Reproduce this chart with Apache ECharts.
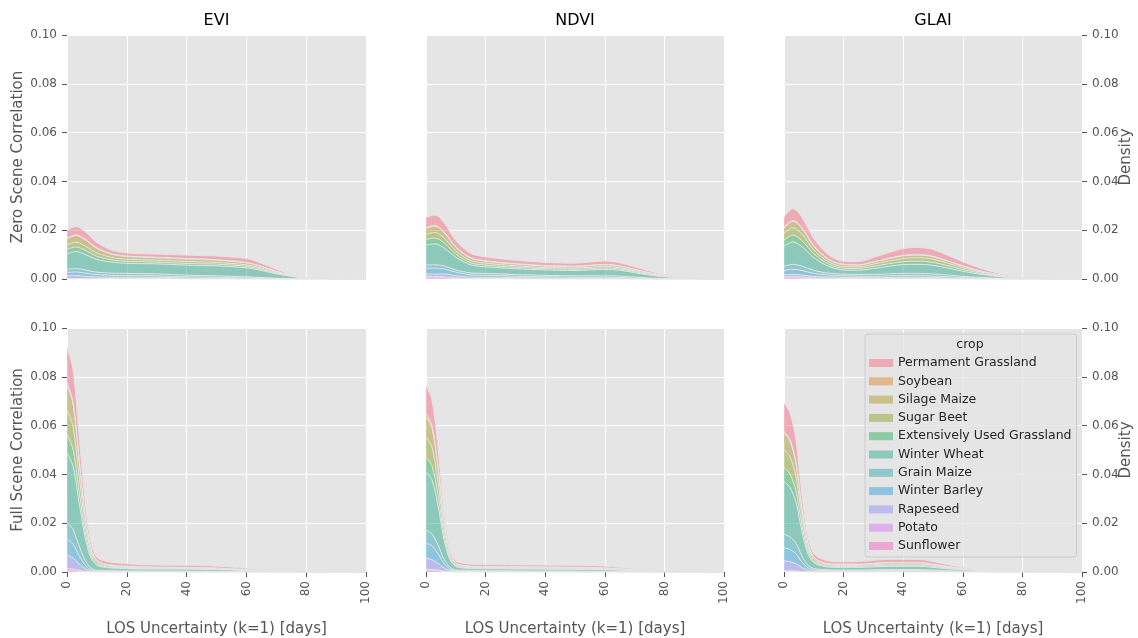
<!DOCTYPE html>
<html>
<head>
<meta charset="utf-8">
<script src="https://cdn.jsdelivr.net/npm/echarts@6/dist/echarts.min.js"></script>
<style>
  html, body { margin: 0; padding: 0; background: #fff; }
  #chart { width: 1138px; height: 638px; }
</style>
</head>
<body>
<div id="chart"></div>
<script>
// crops, in legend order (top of the stack first)
const crops = ["Permament Grassland", "Soybean", "Silage Maize", "Sugar Beet",
  "Extensively Used Grassland", "Winter Wheat", "Grain Maize", "Winter Barley",
  "Rapeseed", "Potato", "Sunflower"];
const cropColors = ["#f77189", "#d98a32", "#b09c31", "#8fa531", "#34b05e", "#35ae92",
  "#37aab3", "#3aa4da", "#968ff4", "#d47df3", "#f568c4"];

const indices = ["EVI", "NDVI", "GLAI"];
const rowNames = ["Zero Scene Correlation", "Full Scene Correlation"];

// evaluation points (days)
const xTop = [0, 3, 6, 10, 15, 20, 25, 30, 40, 45, 50, 60, 65, 70, 75, 80, 90, 100];
const xBottom = [0, 2, 4, 6, 8, 10, 13, 17, 25, 35, 45, 55, 65, 75, 85, 100];

// densities, one row per crop (same order as crops)
const eviZero = [
  [0.0032, 0.0034, 0.0031, 0.0022, 0.0015, 0.0013, 0.0013, 0.0013, 0.0014, 0.0014, 0.0015, 0.0016, 0.0013, 0.0008, 0.0004, 0.0001, 0, 0],
  [0.0003, 0.0003, 0.0003, 0.0003, 0.0002, 0.0002, 0.0002, 0.0002, 0.0002, 0.0002, 0.0002, 0.0002, 0.0001, 0.0001, 0, 0, 0, 0],
  [0.0025, 0.0027, 0.0025, 0.0018, 0.0013, 0.0011, 0.0010, 0.0010, 0.0010, 0.0010, 0.0009, 0.0008, 0.0006, 0.0004, 0.0002, 0.0001, 0, 0],
  [0.0019, 0.0020, 0.0018, 0.0014, 0.0010, 0.0009, 0.0008, 0.0008, 0.0008, 0.0008, 0.0007, 0.0006, 0.0005, 0.0003, 0.0001, 0, 0, 0],
  [0.0017, 0.0018, 0.0017, 0.0013, 0.0009, 0.0008, 0.0008, 0.0007, 0.0007, 0.0007, 0.0007, 0.0006, 0.0005, 0.0003, 0.0001, 0.0001, 0, 0],
  [0.0064, 0.0070, 0.0064, 0.0052, 0.0045, 0.0041, 0.0041, 0.0041, 0.0041, 0.0041, 0.0041, 0.0037, 0.0029, 0.0018, 0.0009, 0.0003, 0.0001, 0],
  [0.0013, 0.0014, 0.0013, 0.0010, 0.0009, 0.0009, 0.0008, 0.0008, 0.0007, 0.0006, 0.0006, 0.0005, 0.0003, 0.0002, 0.0001, 0.0001, 0, 0],
  [0.0014, 0.0015, 0.0013, 0.0010, 0.0008, 0.0007, 0.0007, 0.0006, 0.0005, 0.0005, 0.0004, 0.0003, 0.0002, 0.0001, 0.0001, 0, 0, 0],
  [0.0011, 0.0012, 0.0009, 0.0006, 0.0005, 0.0005, 0.0005, 0.0004, 0.0003, 0.0002, 0.0002, 0.0001, 0.0001, 0, 0, 0, 0, 0],
  [0.0001, 0.0001, 0.0001, 0.0001, 0.0001, 0.0001, 0.0001, 0.0002, 0.0001, 0.0001, 0.0001, 0, 0, 0, 0, 0, 0, 0],
  [0.0001, 0.0001, 0.0001, 0.0001, 0.0001, 0.0001, 0.0001, 0.0001, 0, 0, 0, 0, 0, 0, 0, 0, 0, 0]
];
const ndviZero = [
  [0.0041, 0.0043, 0.0038, 0.0026, 0.0018, 0.0016, 0.0015, 0.0014, 0.0013, 0.0012, 0.0012, 0.0014, 0.0013, 0.0010, 0.0007, 0.0004, 0.0001, 0],
  [0.0003, 0.0003, 0.0003, 0.0003, 0.0002, 0.0002, 0.0002, 0.0002, 0.0002, 0.0002, 0.0002, 0.0002, 0.0002, 0.0001, 0.0001, 0, 0, 0],
  [0.0024, 0.0025, 0.0022, 0.0014, 0.0010, 0.0008, 0.0007, 0.0007, 0.0006, 0.0006, 0.0006, 0.0007, 0.0006, 0.0005, 0.0003, 0.0002, 0, 0],
  [0.0022, 0.0023, 0.0020, 0.0013, 0.0009, 0.0008, 0.0007, 0.0006, 0.0005, 0.0005, 0.0005, 0.0006, 0.0005, 0.0004, 0.0003, 0.0002, 0.0001, 0],
  [0.0023, 0.0024, 0.0021, 0.0013, 0.0008, 0.0007, 0.0006, 0.0006, 0.0005, 0.0005, 0.0005, 0.0006, 0.0005, 0.0004, 0.0003, 0.0002, 0.0001, 0],
  [0.0082, 0.0086, 0.0074, 0.0052, 0.0033, 0.0027, 0.0025, 0.0024, 0.0022, 0.0022, 0.0022, 0.0026, 0.0024, 0.0018, 0.0012, 0.0007, 0.0001, 0.0001],
  [0.0013, 0.0014, 0.0012, 0.0009, 0.0008, 0.0008, 0.0007, 0.0007, 0.0006, 0.0006, 0.0006, 0.0006, 0.0006, 0.0005, 0.0003, 0.0002, 0, 0],
  [0.0024, 0.0024, 0.0021, 0.0015, 0.0009, 0.0008, 0.0007, 0.0006, 0.0005, 0.0005, 0.0004, 0.0004, 0.0004, 0.0002, 0.0001, 0, 0, 0],
  [0.0010, 0.0010, 0.0012, 0.0008, 0.0006, 0.0005, 0.0005, 0.0004, 0.0003, 0.0003, 0.0003, 0.0002, 0.0002, 0.0001, 0, 0, 0, 0],
  [0.0006, 0.0006, 0.0005, 0.0003, 0.0001, 0.0001, 0.0001, 0.0001, 0.0001, 0, 0, 0.0001, 0, 0, 0, 0, 0, 0],
  [0.0004, 0.0004, 0.0004, 0.0002, 0.0001, 0.0001, 0.0001, 0, 0, 0, 0, 0, 0, 0, 0, 0, 0, 0]
];
const glaiZero = [
  [0.0042, 0.0048, 0.0043, 0.0029, 0.0017, 0.0013, 0.0014, 0.0018, 0.0028, 0.0029, 0.0028, 0.0017, 0.0012, 0.0008, 0.0004, 0.0002, 0, 0],
  [0.0004, 0.0004, 0.0004, 0.0003, 0.0002, 0.0001, 0.0001, 0.0001, 0.0002, 0.0002, 0.0002, 0.0001, 0.0001, 0, 0, 0, 0, 0],
  [0.0023, 0.0026, 0.0023, 0.0015, 0.0009, 0.0008, 0.0007, 0.0008, 0.0011, 0.0011, 0.0010, 0.0006, 0.0004, 0.0003, 0.0002, 0.0001, 0, 0],
  [0.0026, 0.0030, 0.0026, 0.0016, 0.0009, 0.0007, 0.0007, 0.0009, 0.0013, 0.0014, 0.0013, 0.0008, 0.0005, 0.0003, 0.0002, 0.0001, 0, 0],
  [0.0025, 0.0028, 0.0025, 0.0016, 0.0009, 0.0007, 0.0007, 0.0009, 0.0012, 0.0013, 0.0012, 0.0007, 0.0005, 0.0003, 0.0002, 0.0001, 0, 0],
  [0.0082, 0.0092, 0.0080, 0.0052, 0.0028, 0.0017, 0.0017, 0.0024, 0.0036, 0.0037, 0.0035, 0.0021, 0.0014, 0.0009, 0.0005, 0.0002, 0.0001, 0],
  [0.0017, 0.0020, 0.0018, 0.0012, 0.0008, 0.0007, 0.0007, 0.0008, 0.0009, 0.0009, 0.0009, 0.0005, 0.0004, 0.0002, 0.0001, 0, 0, 0],
  [0.0018, 0.0021, 0.0019, 0.0013, 0.0008, 0.0006, 0.0006, 0.0006, 0.0007, 0.0007, 0.0006, 0.0004, 0.0002, 0.0001, 0, 0, 0, 0],
  [0.0008, 0.0009, 0.0008, 0.0006, 0.0005, 0.0004, 0.0004, 0.0003, 0.0004, 0.0004, 0.0003, 0.0002, 0.0001, 0.0001, 0, 0, 0, 0],
  [0.0005, 0.0006, 0.0005, 0.0003, 0.0002, 0.0002, 0.0001, 0.0001, 0.0002, 0.0002, 0.0002, 0, 0, 0, 0, 0, 0, 0],
  [0.0004, 0.0004, 0.0003, 0.0001, 0.0001, 0.0001, 0.0001, 0.0001, 0.0001, 0.0001, 0.0001, 0, 0, 0, 0, 0, 0, 0]
];
const eviFull = [
  [0.0144, 0.0134, 0.0098, 0.0055, 0.0024, 0.0012, 0.0012, 0.0011, 0.0009, 0.0009, 0.0009, 0.0007, 0.0004, 0.0002, 0.0001, 0],
  [0.0010, 0.0009, 0.0006, 0.0003, 0.0002, 0.0001, 0.0001, 0.0001, 0.0001, 0, 0, 0, 0, 0, 0, 0],
  [0.0102, 0.0093, 0.0064, 0.0034, 0.0014, 0.0007, 0.0005, 0.0004, 0.0003, 0.0003, 0.0003, 0.0002, 0.0001, 0, 0, 0],
  [0.0102, 0.0093, 0.0064, 0.0034, 0.0014, 0.0007, 0.0004, 0.0003, 0.0003, 0.0002, 0.0002, 0.0001, 0.0001, 0, 0, 0],
  [0.0075, 0.0068, 0.0047, 0.0025, 0.0011, 0.0005, 0.0004, 0.0003, 0.0002, 0.0002, 0.0002, 0.0002, 0.0001, 0, 0, 0],
  [0.0285, 0.0260, 0.0180, 0.0096, 0.0041, 0.0021, 0.0012, 0.0010, 0.0008, 0.0008, 0.0008, 0.0006, 0.0003, 0.0002, 0, 0],
  [0.0068, 0.0060, 0.0040, 0.0020, 0.0008, 0.0004, 0.0003, 0.0003, 0.0002, 0.0002, 0.0002, 0.0001, 0, 0, 0, 0],
  [0.0066, 0.0057, 0.0035, 0.0015, 0.0005, 0.0002, 0.0002, 0.0001, 0.0001, 0.0001, 0.0001, 0.0001, 0, 0, 0, 0],
  [0.0054, 0.0046, 0.0027, 0.0011, 0.0003, 0.0001, 0.0001, 0.0001, 0.0001, 0.0001, 0, 0, 0, 0, 0, 0],
  [0.0010, 0.0008, 0.0005, 0.0002, 0.0001, 0, 0, 0, 0, 0, 0, 0, 0, 0, 0, 0],
  [0.0005, 0.0004, 0.0002, 0.0001, 0, 0, 0, 0, 0, 0, 0, 0, 0, 0, 0, 0]
];
const ndviFull = [
  [0.0114, 0.0106, 0.0078, 0.0040, 0.0017, 0.0009, 0.0009, 0.0008, 0.0008, 0.0008, 0.0008, 0.0008, 0.0006, 0.0003, 0.0001, 0],
  [0.0011, 0.0010, 0.0007, 0.0004, 0.0002, 0.0001, 0.0001, 0.0001, 0.0001, 0.0001, 0.0001, 0.0001, 0, 0, 0, 0],
  [0.0084, 0.0078, 0.0057, 0.0029, 0.0011, 0.0005, 0.0003, 0.0003, 0.0003, 0.0003, 0.0003, 0.0003, 0.0002, 0.0001, 0, 0],
  [0.0082, 0.0076, 0.0056, 0.0028, 0.0011, 0.0005, 0.0003, 0.0003, 0.0003, 0.0003, 0.0003, 0.0003, 0.0002, 0.0001, 0, 0],
  [0.0062, 0.0058, 0.0042, 0.0021, 0.0008, 0.0004, 0.0003, 0.0002, 0.0002, 0.0002, 0.0002, 0.0002, 0.0001, 0, 0, 0],
  [0.0239, 0.0222, 0.0163, 0.0081, 0.0031, 0.0014, 0.0009, 0.0008, 0.0008, 0.0008, 0.0007, 0.0007, 0.0005, 0.0002, 0.0001, 0],
  [0.0053, 0.0049, 0.0036, 0.0018, 0.0007, 0.0003, 0.0003, 0.0002, 0.0002, 0.0002, 0.0002, 0.0002, 0.0002, 0, 0, 0],
  [0.0062, 0.0057, 0.0040, 0.0019, 0.0007, 0.0003, 0.0002, 0.0002, 0.0002, 0.0001, 0.0001, 0.0001, 0.0001, 0, 0, 0],
  [0.0044, 0.0040, 0.0028, 0.0013, 0.0004, 0.0002, 0.0002, 0.0002, 0.0001, 0.0001, 0.0001, 0, 0, 0, 0, 0],
  [0.0006, 0.0005, 0.0004, 0.0002, 0.0001, 0, 0, 0, 0, 0, 0, 0, 0, 0, 0, 0],
  [0.0006, 0.0005, 0.0004, 0.0002, 0.0001, 0, 0, 0, 0, 0, 0, 0, 0, 0, 0, 0]
];
const glaiFull = [
  [0.0116, 0.0110, 0.0092, 0.0055, 0.0026, 0.0014, 0.0013, 0.0010, 0.0011, 0.0013, 0.0013, 0.0008, 0.0003, 0.0001, 0, 0],
  [0.0007, 0.0007, 0.0006, 0.0003, 0.0002, 0.0001, 0.0001, 0.0001, 0.0001, 0.0001, 0.0001, 0, 0, 0, 0, 0],
  [0.0068, 0.0064, 0.0054, 0.0032, 0.0015, 0.0008, 0.0005, 0.0004, 0.0004, 0.0005, 0.0005, 0.0003, 0.0001, 0, 0, 0],
  [0.0075, 0.0071, 0.0059, 0.0035, 0.0016, 0.0008, 0.0005, 0.0004, 0.0004, 0.0005, 0.0005, 0.0003, 0.0001, 0.0001, 0, 0],
  [0.0057, 0.0054, 0.0045, 0.0027, 0.0012, 0.0006, 0.0004, 0.0004, 0.0004, 0.0005, 0.0005, 0.0003, 0.0001, 0, 0, 0],
  [0.0215, 0.0203, 0.0170, 0.0100, 0.0047, 0.0024, 0.0014, 0.0011, 0.0011, 0.0013, 0.0013, 0.0008, 0.0004, 0.0002, 0.0001, 0],
  [0.0055, 0.0052, 0.0043, 0.0025, 0.0011, 0.0006, 0.0004, 0.0003, 0.0003, 0.0004, 0.0004, 0.0002, 0.0001, 0, 0, 0],
  [0.0054, 0.0050, 0.0041, 0.0023, 0.0010, 0.0005, 0.0003, 0.0003, 0.0003, 0.0003, 0.0003, 0.0002, 0.0001, 0, 0, 0],
  [0.0041, 0.0037, 0.0030, 0.0016, 0.0007, 0.0003, 0.0003, 0.0002, 0.0002, 0.0002, 0.0002, 0.0001, 0, 0, 0, 0],
  [0.0003, 0.0003, 0.0002, 0.0001, 0.0001, 0, 0, 0, 0, 0.0001, 0.0001, 0, 0, 0, 0, 0],
  [0.0002, 0.0002, 0.0002, 0.0001, 0, 0, 0, 0, 0, 0, 0, 0, 0, 0, 0, 0]
];

const panels = [eviZero, ndviZero, glaiZero, eviFull, ndviFull, glaiFull];

const colLeft = [67, 426, 784];
const colWidth = [299, 298, 298];
const rowTop = [35, 328];
const rowHeight = [244, 245];

const font = "DejaVu Sans";
const tickGrey = "#555555";

function withAlpha(hex, a) {
  const n = parseInt(hex.slice(1), 16);
  return "rgba(" + (n >> 16) + "," + ((n >> 8) & 255) + "," + (n & 255) + "," + a + ")";
}

const grids = [], xAxes = [], yAxes = [], series = [];
panels.forEach((rows, p) => {
  const row = Math.floor(p / 3), col = p % 3;
  const xs = row === 0 ? xTop : xBottom;
  grids.push({
    left: colLeft[col], top: rowTop[row], width: colWidth[col], height: rowHeight[row],
    show: true, backgroundColor: "#e5e5e5", borderWidth: 0
  });
  xAxes.push({
    type: "value", gridIndex: p, min: 0, max: 100, interval: 20, position: "bottom",
    axisLine: { show: false, onZero: false },
    axisTick: { show: row === 1, length: 5, lineStyle: { color: tickGrey } },
    axisLabel: { show: row === 1, rotate: 90, margin: 9, fontSize: 12, color: tickGrey, fontFamily: font },
    splitLine: { show: true, lineStyle: { color: "#ffffff", width: 1 } },
    name: row === 1 ? "LOS Uncertainty (k=1) [days]" : "",
    nameLocation: "middle", nameGap: 50, nameMoveOverlap: false,
    nameTextStyle: { fontSize: 15, color: tickGrey, fontFamily: font }
  });
  yAxes.push({
    type: "value", gridIndex: p, min: 0, max: 0.1, interval: 0.02,
    position: col === 2 ? "right" : "left",
    axisLine: { show: false, onZero: false },
    axisTick: { show: col !== 1, length: 5, lineStyle: { color: tickGrey } },
    axisLabel: { show: col !== 1, margin: 10, fontSize: 12, color: tickGrey, fontFamily: font,
      formatter: v => v.toFixed(2) },
    splitLine: { show: true, lineStyle: { color: "#ffffff", width: 1 } },
    name: col === 0 ? rowNames[row] : (col === 2 ? "Density" : ""),
    nameLocation: "middle", nameRotate: 90, nameMoveOverlap: false,
    nameGap: col === 0 ? 41 : 37,
    nameTextStyle: { fontSize: 15, color: tickGrey, fontFamily: font }
  });
  // bottom of the stack first; data stored as [density, day] so the stack runs on the density
  for (let i = crops.length - 1; i >= 0; i--) {
    series.push({
      type: "line", name: crops[i], xAxisIndex: p, yAxisIndex: p,
      stack: "panel" + p, smooth: 0.3, symbol: "none", showSymbol: false,
      data: xs.map((x, k) => [rows[i][k], x]),
      encode: { x: 1, y: 0 },
      itemStyle: { color: withAlpha(cropColors[i], 0.5) },
      lineStyle: { color: "#e5e5e5", width: 1 },
      areaStyle: { color: withAlpha(cropColors[i], 0.5), opacity: 1 },
      emphasis: { disabled: true },
      silent: true, animation: false
    });
  }
});

const graphics = indices.map((name, c) => ({
  type: "text", x: colLeft[c] + colWidth[c] / 2, y: 21, z: 100,
  style: { text: name, fill: "#000000", font: "16px '" + font + "'",
    textAlign: "center", textVerticalAlign: "middle" }
}));
graphics.push({
  type: "text", x: 970, y: 345, z: 100,
  style: { text: "crop", fill: "#262626", font: "12.5px '" + font + "'",
    textAlign: "center", textVerticalAlign: "middle" }
});

const chart = echarts.init(document.getElementById("chart"));
chart.setOption({
  animation: false,
  textStyle: { fontFamily: font },
  grid: grids,
  xAxis: xAxes,
  yAxis: yAxes,
  legend: {
    orient: "vertical", left: 865, top: 334,
    padding: [22, 5, 4, 4], itemWidth: 24, itemHeight: 8, itemGap: 4.3,
    backgroundColor: "rgba(229,229,229,0.8)", borderColor: "#cccccc", borderWidth: 1, borderRadius: 3,
    selectedMode: false,
    textStyle: { fontSize: 12.5, color: "#262626", lineHeight: 14, fontFamily: font },
    data: crops.map((c, i) => ({ name: c, icon: "rect",
      itemStyle: { color: withAlpha(cropColors[i], 0.5), borderWidth: 0 } }))
  },
  graphic: graphics,
  series: series
});
</script>
</body>
</html>
